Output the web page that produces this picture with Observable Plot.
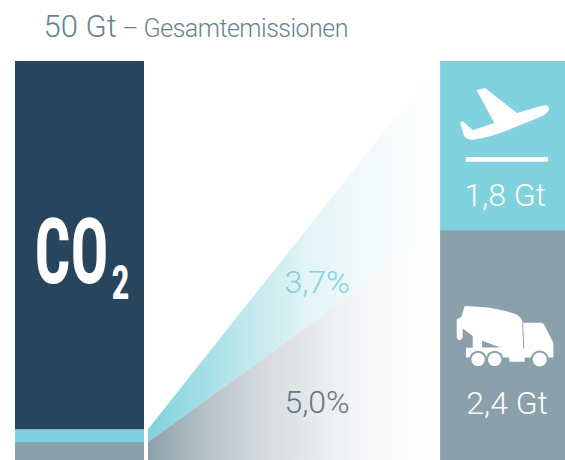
<!DOCTYPE html>
<html><head><meta charset="utf-8">
<script src="https://cdn.jsdelivr.net/npm/d3@7"></script>
<script src="https://cdn.jsdelivr.net/npm/@observablehq/plot@0.6"></script>
<style>
html,body{margin:0;padding:0;background:#fff;overflow:hidden}
#title{height:61px;box-sizing:border-box;padding:11px 0 0 43.5px;color:#688390;font-family:Roboto,sans-serif;font-weight:300;white-space:nowrap;line-height:32px}
#title .a{font-size:31px}
#title .b{font-size:25px;letter-spacing:-0.5px}
svg{display:block}
</style></head><body>
<div id="title"><span class="a">50 Gt</span><span class="b"> – Gesamtemissionen</span></div>
<div id="chart"></div>
<script>
// values (Gt)
const totalGt = 50;
const leftNames = ["Zement", "Luftfahrt", "CO2 gesamt"];
const leftGt = [2.25, 1.6, 46.15];
const rightNames = ["Zement", "Luftfahrt"];
const rightGt = [2.42, 1.78];
const rightLabels = ["2,4 Gt", "1,8 Gt"];
const shareLabels = ["5,0%", "3,7%"];
const colors = {navy:"#27455c", cyan:"#7fd2de", grey:"#8aa0aa"};

const cum = a => { let s = 0; return a.map(v => [s, s += v]); };
const leftStack = cum(leftGt);
const rightUnit = totalGt / d3.sum(rightGt);
const rightStack = cum(rightGt.map(v => v * rightUnit));

// columns in units of one left-bar width
const leftCol = [0, 1], wedgeCol = [1.031, 3.295], rightCol = [3.295, 4.264];
const midRight = (rightCol[0] + rightCol[1]) / 2;
const midWedge = (wedgeCol[0] + wedgeCol[1]) / 2;

const rows = (stack, names, col) => stack.map((s, i) => ({name:names[i], x1:col[0], x2:col[1], y1:s[0], y2:s[1]}));
const leftRows = rows(leftStack, leftNames, leftCol);
const rightRows = rows(rightStack, rightNames, rightCol);
const wedge = i => wedgeCol.map((x, k) => ({x,
  y1: k ? rightStack[i][0] : leftStack[i][0],
  y2: k ? rightStack[i][1] : leftStack[i][1]}));

const defs = () => {
  const d = d3.create("svg:defs");
  const grad = (id, stops) => {
    const g = d.append("linearGradient").attr("id", id).attr("x1", 0).attr("x2", 1).attr("y1", 0).attr("y2", 0);
    stops.forEach(([o, c]) => g.append("stop").attr("offset", o).attr("stop-color", c));
  };
  grad("gCyan", [[0, "#7fd2de"], [0.3, "#b9e5eb"], [0.55, "#e3f4f6"], [0.8, "#f6fbfc"], [1, "#ffffff"]]);
  grad("gGrey", [[0, "#8aa0aa"], [0.2, "#b6c3c9"], [0.42, "#d9dde0"], [0.7, "#f3f4f6"], [0.87, "#fcfcfd"], [1, "#ffffff"]]);
  return d.node();
};

// icon outlines, in local boxes tied to the right column and its split
const planePath = "M110 28L135 21L231 96L305 74Q327 70 327 84Q325 98 300 108L210 145Q150 170 100 176Q80 177 72 165L60 125L68 120L98 148L163 126Z M77 228H324V242H77Z";
const truckPath = "M38 18L110 22Q165 32 190 42Q208 50 212 68H268Q278 72 282 85L304 128V172H218V185H172V172H42V143H62V108L32 85V112Q22 128 14 112V58L28 50Z";
const truckHole = "M90 122V142L145 142Z";
const truckGap = "M212 68L215 145";
const wheels = [[78, 178, 20], [128, 178, 20], [263, 178, 21]];

const plane = (index, {x, y}) => {
  const g = d3.create("svg:g").attr("transform", `translate(${x(rightCol[0])},${y(totalGt) + 20}) scale(0.3333)`);
  g.append("path").attr("d", planePath).attr("fill", "#fff");
  return g.node();
};
const truck = (index, {x, y}) => {
  const g = d3.create("svg:g").attr("transform", `translate(${x(rightCol[0]) + 12},${y(rightStack[0][1]) + 70}) scale(0.3333)`);
  g.append("path").attr("d", truckPath).attr("fill", "#fff");
  g.append("path").attr("d", truckHole).attr("fill", colors.grey);
  g.append("path").attr("d", truckGap).attr("fill", "none").attr("stroke", colors.grey).attr("stroke-width", 3);
  wheels.forEach(([cx, cy, r]) => {
    g.append("circle").attr("cx", cx).attr("cy", cy).attr("r", r + 6).attr("fill", colors.grey);
    g.append("circle").attr("cx", cx).attr("cy", cy).attr("r", r).attr("fill", "#fff");
  });
  return g.node();
};

// fit a text to a given width by scaling it horizontally about its anchor
const measureCtx = document.createElement("canvas").getContext("2d");
const squeeze = (width, fontSpec, stretch) => (index, scales, values, dimensions, context, next) => {
  const g = next(index, scales, values, dimensions, context);
  d3.select(g).selectAll("text").each(function() {
    measureCtx.font = fontSpec;
    const sx = width / measureCtx.measureText(this.textContent).width;
    const t = this.getAttribute("transform") || "";
    this.setAttribute("transform", `${t} scale(${sx},1)`);
    if (stretch) this.style.fontStretch = stretch;
  });
  return g;
};

const font = "Roboto, sans-serif";
const label = (text, x, dx, dy, fill, fontSize, extra) =>
  Plot.text([text], {x, y:rightStack[0][1], text:d => d, dx, dy, fill, fontFamily:font, fontWeight:300, fontSize, lineAnchor:"bottom", ...extra});
const plot = Plot.plot({
  width: 565, height: 399,
  marginTop: 0, marginRight: 0, marginBottom: 0, marginLeft: 0,
  x: {type:"linear", domain:[0, 1], range:[15, 144], axis:null},
  y: {domain:[0, totalGt], range:[399, 0], axis:null},
  marks: [
    defs,
    Plot.rect(leftRows, {x1:"x1", x2:"x2", y1:"y1", y2:"y2", fill:d => ({Zement:colors.grey, Luftfahrt:colors.cyan})[d.name] || colors.navy}),
    Plot.rect(rightRows, {x1:"x1", x2:"x2", y1:"y1", y2:"y2", fill:d => d.name === "Zement" ? colors.grey : colors.cyan}),
    Plot.areaY(wedge(1), {x:"x", y1:"y1", y2:"y2", fill:"url(#gCyan)"}),
    Plot.areaY(wedge(0), {x:"x", y1:"y1", y2:"y2", fill:"url(#gGrey)"}),
    Plot.text(["CO"], {x:0, y:26, text:d => d, dx:19, dy:29.5, fill:"#fff", fontFamily:font, fontWeight:700, fontSize:90, textAnchor:"start", lineAnchor:"bottom", render:squeeze(74, "condensed 700 90px Roboto", "condensed")}),
    Plot.text(["2"], {x:0, y:26, text:d => d, dx:96, dy:45.5, fill:"#fff", fontFamily:font, fontWeight:700, fontSize:48, textAnchor:"start", lineAnchor:"bottom", render:squeeze(18, "condensed 700 48px Roboto", "condensed")}),
    label(shareLabels[1], midWedge, 22.5, 62, colors.cyan, 32),
    label(shareLabels[0], midWedge, 22.5, 182, "#5f7a87", 32),
    label(rightLabels[1], midRight, 2, -25, "#fff", 32, {letterSpacing:"0.4px"}),
    label(rightLabels[0], midRight, 4, 183, "#fff", 32, {letterSpacing:"0.4px"}),
    plane,
    truck
  ]
});
document.getElementById("chart").append(plot);
</script></body></html>
